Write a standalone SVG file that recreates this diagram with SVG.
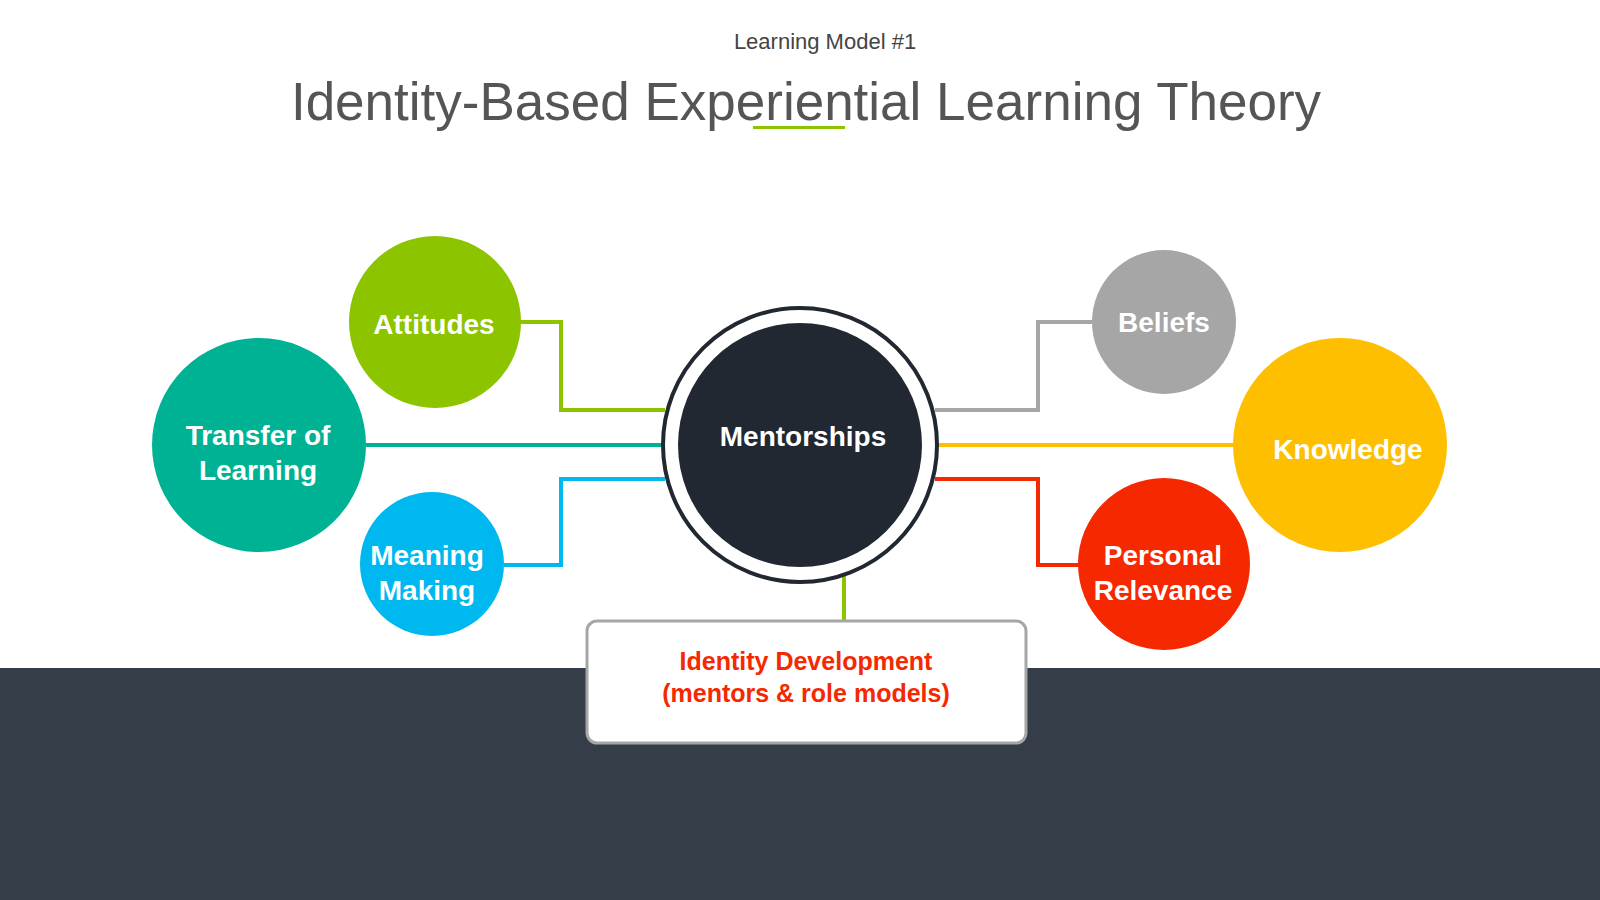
<svg xmlns="http://www.w3.org/2000/svg" width="1600" height="900" viewBox="0 0 1600 900">
<style>
.n{font-family:"Liberation Sans",Arial,sans-serif;font-weight:bold;fill:#fff;font-size:28px;text-anchor:middle}
.c{fill:none;stroke-width:4}
</style>
<rect width="1600" height="900" fill="#fff"/>
<rect y="668" width="1600" height="232" fill="#343d48"/>
<text x="825" y="49" font-family="Liberation Sans,Arial,sans-serif" font-size="22" fill="#444" text-anchor="middle">Learning Model #1</text>
<text x="806" y="120" font-family="Liberation Sans,Arial,sans-serif" font-size="53" fill="#555" text-anchor="middle">Identity-Based Experiential Learning Theory</text>
<rect x="753" y="126" width="92" height="3" fill="#8cc400"/>
<g id="connectors">
<polyline class="c" stroke="#8cc400" points="520,322 561,322 561,410 665,410"/>
<polyline class="c" stroke="#00b294" points="365,445 663,445"/>
<polyline class="c" stroke="#00b8f0" points="504,565 561,565 561,479 665,479"/>
<polyline class="c" stroke="#a6a6a6" points="1094,322 1038,322 1038,410 935,410"/>
<polyline class="c" stroke="#fdbf00" points="937,445 1235,445"/>
<polyline class="c" stroke="#f52800" points="935,479 1038,479 1038,565 1080,565"/>
<polyline class="c" stroke="#8cc400" points="844,576 844,620"/>
</g>
<g id="mentorships"><circle cx="800" cy="445" r="137" fill="#fff" stroke="#222831" stroke-width="4"/><circle cx="800" cy="445" r="122" fill="#222831"/><text class="n" x="803" y="446" font-size="26">Mentorships</text></g>
<g id="attitudes"><circle cx="435" cy="322" r="86" fill="#8cc400"/><text class="n" x="434" y="334">Attitudes</text></g>
<g id="transfer"><circle cx="259" cy="445" r="107" fill="#00b294"/><text class="n" x="258" y="445">Transfer of</text><text class="n" x="258" y="480">Learning</text></g>
<g id="meaning"><circle cx="432" cy="564" r="72" fill="#00b8f0"/><text class="n" x="427" y="565">Meaning</text><text class="n" x="427" y="600">Making</text></g>
<g id="beliefs"><circle cx="1164" cy="322" r="72" fill="#a6a6a6"/><text class="n" x="1164" y="332">Beliefs</text></g>
<g id="knowledge"><circle cx="1340" cy="445" r="107" fill="#fdbf00"/><text class="n" x="1348" y="459">Knowledge</text></g>
<g id="personal"><circle cx="1164" cy="564" r="86" fill="#f52800"/><text class="n" x="1163" y="565">Personal</text><text class="n" x="1163" y="600">Relevance</text></g>
<g id="identity"><rect x="587" y="621" width="439" height="122" rx="10" fill="#fff" stroke="#a6a6a6" stroke-width="3"/>
<text x="806" y="670" font-family="Liberation Sans,Arial,sans-serif" font-weight="bold" font-size="25" fill="#f52800" text-anchor="middle">Identity Development</text>
<text x="806" y="702" font-family="Liberation Sans,Arial,sans-serif" font-weight="bold" font-size="25" fill="#f52800" text-anchor="middle">(mentors &amp; role models)</text></g>
</svg>
